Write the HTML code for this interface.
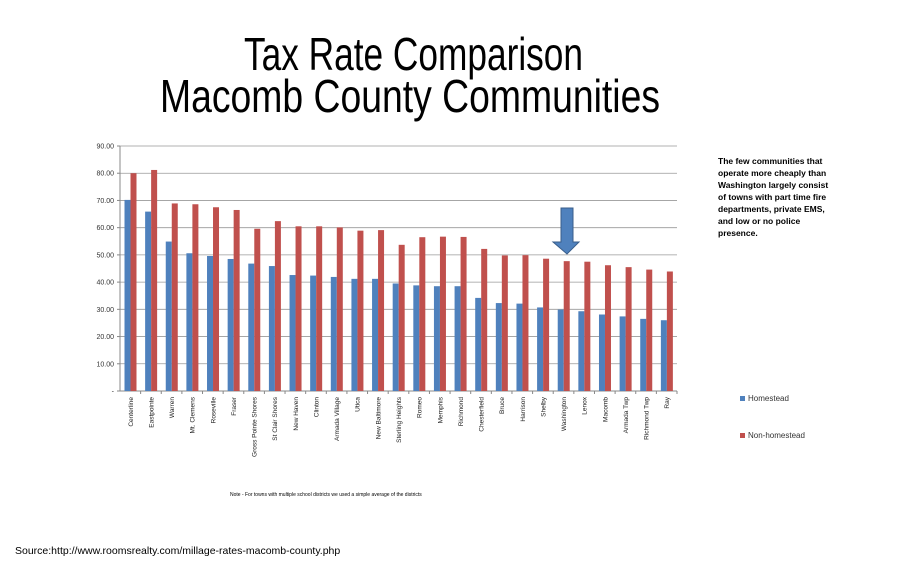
<!DOCTYPE html>
<html><head><meta charset="utf-8"><style>body{margin:0;background:#fff}svg{display:block}</style></head>
<body>
<svg width="900" height="570" xmlns="http://www.w3.org/2000/svg" font-family="Liberation Sans, sans-serif">
<text x="244" y="70" font-size="46" textLength="339" lengthAdjust="spacingAndGlyphs">Tax Rate Comparison</text>
<text x="160" y="112" font-size="46" textLength="500" lengthAdjust="spacingAndGlyphs">Macomb County Communities</text>
<g id="chart"></g>
<g font-size="8.5" font-weight="bold">
<text x="718" y="164">The few communities that</text>
<text x="718" y="176">operate more cheaply than</text>
<text x="718" y="188">Washington largely consist</text>
<text x="718" y="200">of towns with part time fire</text>
<text x="718" y="212">departments, private EMS,</text>
<text x="718" y="224">and low or no police</text>
<text x="718" y="236">presence.</text>
</g>
<rect x="740" y="396" width="5" height="5" fill="#4f81bd"/>
<text x="748" y="401" font-size="8" fill="#333">Homestead</text>
<rect x="740" y="433" width="5" height="5" fill="#c0504d"/>
<text x="748" y="438" font-size="8" fill="#333">Non-homestead</text>
<text x="230" y="496" font-size="5">Note - For towns with multiple school districts we used a simple average of the districts</text>
<text x="15" y="554" font-size="10.5">Source:http://www.roomsrealty.com/millage-rates-macomb-county.php</text>
</svg>
<script>
const names=["Centerline","Eastpointe","Warren","Mt. Clemens","Roseville","Fraser","Gross Pointe Shores","St Clair Shores","New Haven","Clinton","Armada Village","Utica","New Baltimore","Sterling Heights","Romeo","Memphis","Richmond","Chesterfield","Bruce","Harrison","Shelby","Washington","Lenox","Macomb","Armada Twp","Richmond Twp","Ray"];
const h=[70.2,65.9,54.9,50.6,49.6,48.5,46.8,45.9,42.6,42.4,41.9,41.2,41.2,39.5,38.8,38.5,38.5,34.2,32.3,32.1,30.7,29.9,29.3,28.1,27.4,26.5,26.0];
const n=[80,81.2,68.9,68.6,67.5,66.5,59.6,62.4,60.5,60.5,60.1,58.9,59.1,53.7,56.5,56.7,56.6,52.2,49.8,49.9,48.6,47.7,47.5,46.2,45.5,44.6,43.9];
const x0=120,x1=677,y0=391,yt=146,cw=(x1-x0)/27,k=(y0-yt)/90;
let s='';
for(let i=0;i<=9;i++){const y=y0-i*10*k;
 if(i>0)s+=`<line x1="${x0}" x2="${x1}" y1="${y}" y2="${y}" stroke="#999" stroke-width="0.8"/>`;
 s+=`<line x1="${x0-3}" x2="${x0}" y1="${y}" y2="${y}" stroke="#888"/>`;
 s+=`<text x="${x0-6}" y="${y+2.5}" font-size="7" text-anchor="end" fill="#333">${i?(i*10).toFixed(2):'-'}</text>`;}
s+=`<line x1="${x0}" x2="${x0}" y1="${yt}" y2="${y0}" stroke="#888"/><line x1="${x0}" x2="${x1}" y1="${y0}" y2="${y0}" stroke="#888"/>`;
names.forEach((nm,i)=>{const cx=x0+i*cw;
 s+=`<rect x="${cx+4.5}" y="${y0-h[i]*k}" width="6" height="${h[i]*k}" fill="#4f81bd"/>`;
 s+=`<rect x="${cx+10.5}" y="${y0-n[i]*k}" width="6" height="${n[i]*k}" fill="#c0504d"/>`;
 s+=`<line x1="${cx+cw}" x2="${cx+cw}" y1="${y0}" y2="${y0+3}" stroke="#888"/>`;
 s+=`<text transform="translate(${cx+cw/2+2.5},${y0+6}) rotate(-90)" font-size="6.5" text-anchor="end" fill="#222">${nm}</text>`;});
s+=`<path d="M561 208H573V242H579L567 254L553 242H561Z" fill="#4f81bd" stroke="#385d8a" stroke-width="1"/>`;
document.getElementById('chart').innerHTML=s;
</script>
</body></html>
